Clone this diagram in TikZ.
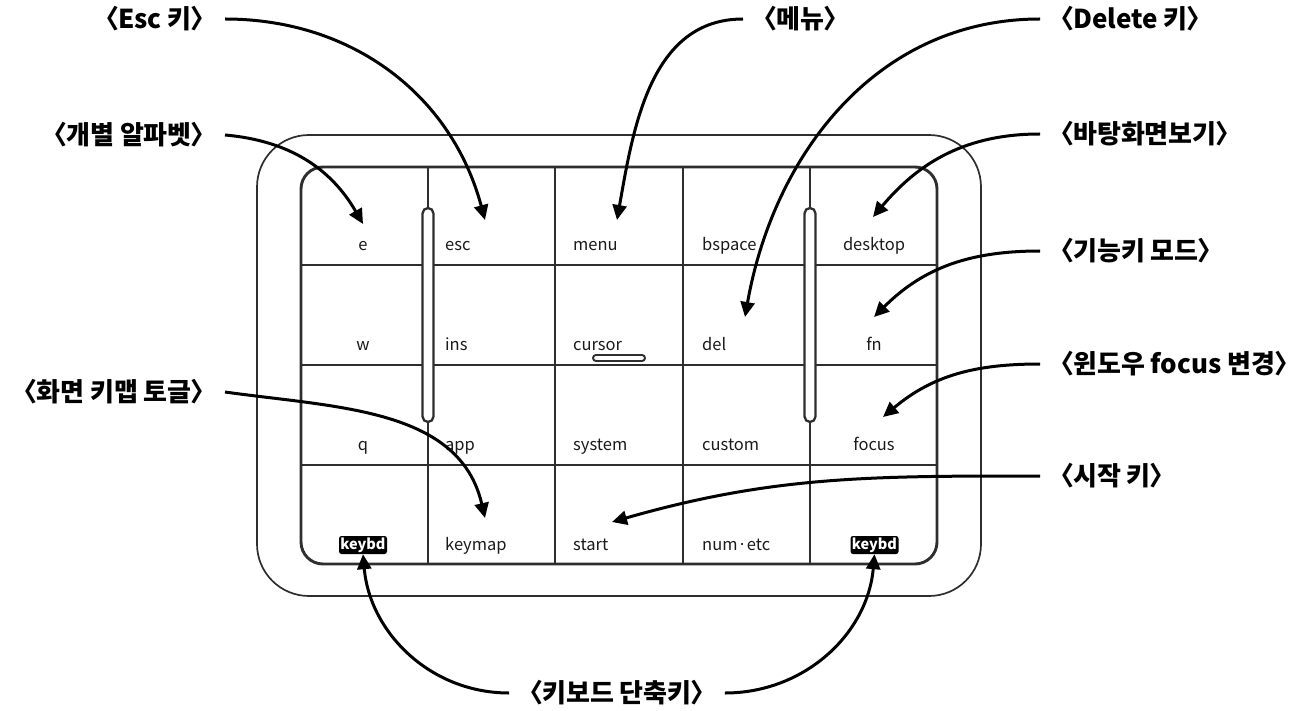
\documentclass[tikz,border=0pt]{standalone}
\usepackage{fontspec}
\newfontfamily\kfont{Noto Sans CJK KR}[RawFeature=+palt]
\usetikzlibrary{arrows.meta}
\definecolor{gridc}{HTML}{2E2E2E}
\definecolor{txtc}{HTML}{1A1A1A}
\begin{document}
\begin{tikzpicture}[x=1pt,y=1pt,
  gridline/.style={draw=gridc,line width=2.9pt},
  pill/.style={draw=gridc,line width=2.3pt,fill=white},
  cell/.style={font=\kfont\fontsize{16.5}{16.5}\selectfont,text=txtc,inner sep=0pt,anchor=base},
  badge/.style={fill=black,rounded corners=2.5pt,text=white,font=\kfont\bfseries\fontsize{14.5}{14.5}\selectfont,minimum width=48pt,minimum height=18pt,inner sep=0pt},
  callout/.style={font=\kfont\bfseries\fontsize{26}{26}\selectfont,inner ysep=0pt,inner xsep=20pt},
  conn/.style={line width=3pt,-{Triangle[length=15pt,width=14pt]}}
]
\useasboundingbox (0,0) rectangle (1300,-711);
% outer casing
\draw[draw=gridc,line width=1.7pt,rounded corners=52pt] (257,-135) rectangle (981,-596);
% key grid
\draw[gridline,rounded corners=22pt] (301,-167) rectangle (937,-564);
\foreach \xx in {428,555,683,810} \draw[gridline] (\xx,-167) -- (\xx,-564);
\foreach \yy in {265,365,465} \draw[gridline] (301,-\yy) -- (937,-\yy);
% sliders
\draw[pill,rounded corners=5.5pt] (422.5,-208) rectangle (433.5,-422);
\draw[pill,rounded corners=5.5pt] (804.5,-208) rectangle (815.5,-422);
\draw[pill,line width=1.9pt,rounded corners=3pt] (593,-355) rectangle (645,-361);
% cell labels
\node[cell] (ke) at (363,-251) {e};
\node[cell,anchor=base west] (kesc) at (445,-251) {esc};
\node[cell,anchor=base west] (kmenu) at (573,-251) {menu};
\node[cell,anchor=base west] (kbsp) at (702,-251) {bspace};
\node[cell] (kdesk) at (874,-251) {desktop};
\node[cell] (kw) at (363,-350) {w};
\node[cell,anchor=base west] (kins) at (445,-350) {ins};
\node[cell,anchor=base west] (kcur) at (573,-350) {cursor};
\node[cell,anchor=base west] (kdel) at (702,-350) {del};
\node[cell] (kfn) at (874,-350) {fn};
\node[cell] (kq) at (363,-450) {q};
\node[cell,anchor=base west] (kapp) at (445,-450) {app};
\node[cell,anchor=base west] (ksys) at (573,-450) {system};
\node[cell,anchor=base west] (kcus) at (702,-450) {custom};
\node[cell] (kfoc) at (874,-450) {focus};
\node[cell,anchor=base west] (kkm) at (445,-550) {keymap};
\node[cell,anchor=base west] (kst) at (573,-550) {start};
\node[cell,anchor=base west] (knum) at (702,-550) {num·etc};
\node[badge] (kb1) at (363,-545) {keybd};
\node[badge] (kb2) at (874.5,-545) {keybd};
% arrow targets
\coordinate (tE) at (363,-224);
\coordinate (tEsc) at (485,-220);
\coordinate (tMenu) at (617,-220);
\coordinate (tDel) at (745,-317);
\coordinate (tDesk) at (873,-217);
\coordinate (tFn) at (874,-317);
\coordinate (tFocus) at (883,-417);
\coordinate (tKeymap) at (485,-518);
\coordinate (tStart) at (612,-522);
% callout labels
\node[callout,anchor=east] (lEsc) at (225,-19) {〈Esc 키〉};
\node[callout,anchor=east] (lAlpha) at (225,-135) {〈개별 알파벳〉};
\node[callout,anchor=east] (lKeymap) at (225,-392) {〈화면 키맵 토글〉};
\node[callout,anchor=west] (lMenu) at (743,-19) {〈메뉴〉};
\node[callout,anchor=west] (lDel) at (1040,-19) {〈Delete 키〉};
\node[callout,anchor=west] (lDesk) at (1040,-134) {〈바탕화면보기〉};
\node[callout,anchor=west] (lFn) at (1040,-251) {〈기능키 모드〉};
\node[callout,anchor=west] (lFocus) at (1040,-364) {〈윈도우 focus 변경〉};
\node[callout,anchor=west] (lStart) at (1040,-476) {〈시작 키〉};
\node[callout] (lKb) at (617,-693) {〈키보드 단축키〉};
% connectors
\draw[conn] (lEsc.east) to[out=0,in=105] (tEsc);
\draw[conn] (lAlpha.east) to[out=-5,in=120] (tE);
\draw[conn] (lKeymap.east) to[out=-8,in=103] (tKeymap);
\draw[conn] (lMenu.west) to[out=180,in=80] (tMenu);
\draw[conn] (lDel.west) to[out=180,in=80] (tDel);
\draw[conn] (lDesk.west) to[out=180,in=50] (tDesk);
\draw[conn] (lFn.west) to[out=180,in=45] (tFn);
\draw[conn] (lFocus.west) to[out=180,in=40] (tFocus);
\draw[conn] (lStart.west) to[out=180,in=16] (tStart);
\draw[conn] (lKb.west) to[out=180,in=-85] (kb1.south);
\draw[conn] (lKb.east) to[out=0,in=-95] (kb2.south);
\end{tikzpicture}
\end{document}
